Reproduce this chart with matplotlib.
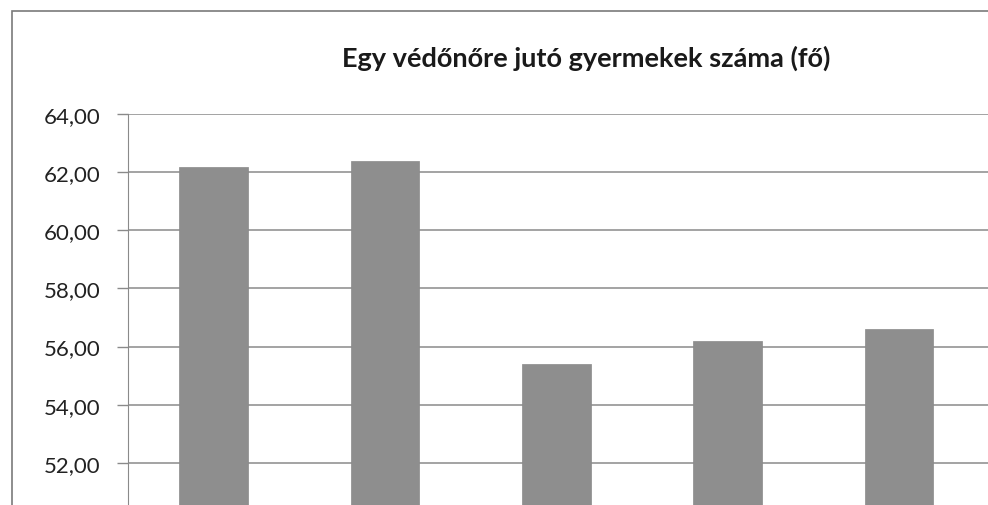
import matplotlib
matplotlib.use('Agg')
import matplotlib.pyplot as plt
from matplotlib.patches import Rectangle

# values (category names are cut off in the source)
positions = [0, 1, 2, 3, 4]
values = [62.17, 62.38, 55.40, 56.20, 56.62]
yticks = [52, 54, 56, 58, 60, 62, 64]
title = 'Egy védőnőre jutó gyermekek száma (fő)'

plt.rcParams['font.family'] = ['Lato', 'DejaVu Sans']

W, H = 988, 506
fig = plt.figure(figsize=(W / 100, H / 100), dpi=100)

# outer chart frame (cropped at right and bottom)
fig.patches.append(Rectangle((12 / W, -0.1), 1.2, (H - 12) / H + 0.1,
                             transform=fig.transFigure, fill=False,
                             edgecolor='#7a7a7a', linewidth=1.2))

# plot area runs past the right and bottom edges, as in the scan
ax = fig.add_axes([128 / W, (H - 522) / H, 1028 / W, 407 / H])
ax.bar(positions, values, width=0.4, color='#8e8e8e', edgecolor='#8a8a8a',
       linewidth=0.5, zorder=3)

ax.set_xlim(-0.5, 5.5)
ax.set_ylim(50, 64)
ax.set_yticks(yticks)
ax.set_yticklabels([f'{v:.2f}'.replace('.', ',') for v in yticks], fontsize=16,
                   color='#222222')
ax.yaxis.grid(True, color='#8a8a8a', linewidth=1.1, zorder=0)
ax.tick_params(axis='y', length=8, width=1, color='#8a8a8a', pad=12)
ax.tick_params(axis='x', bottom=False, labelbottom=False)
for s in ['top', 'right', 'bottom']:
    ax.spines[s].set_visible(False)
ax.spines['left'].set_color('#8a8a8a')

fig.text(586 / W, 1 - 58 / H, title, ha='center', va='center',
         fontsize=19.5, fontweight='bold', color='#1a1a1a')

fig.savefig('out.png', dpi=100)
